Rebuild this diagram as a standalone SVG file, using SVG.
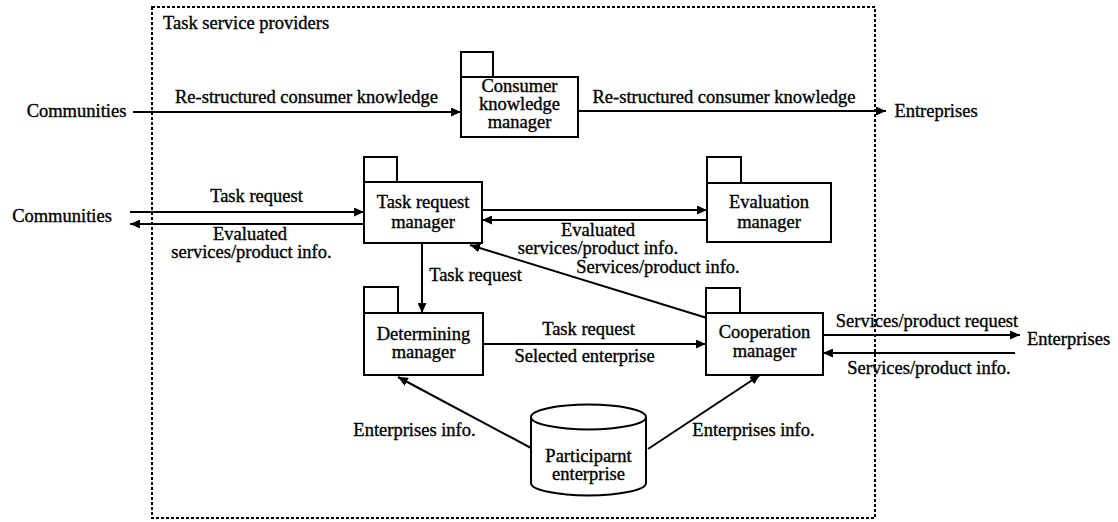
<svg xmlns="http://www.w3.org/2000/svg" width="1118" height="522" viewBox="0 0 1118 522">
<style>
.t{font-family:"Liberation Serif","Times New Roman",serif;font-size:18.5px;fill:#000;stroke:#000;stroke-width:0.35;text-anchor:middle}
.box{fill:#fff;stroke:#000;stroke-width:2}
.c{stroke:#000;stroke-width:2;fill:none;marker-end:url(#ah)}
.frame{fill:none;stroke:#000;stroke-width:2;stroke-dasharray:3,2}
</style>
<defs>
<marker id="ah" markerUnits="userSpaceOnUse" markerWidth="11" markerHeight="9" refX="10" refY="4.5" orient="auto">
<path d="M0,0 L10,4.5 L0,9 z" fill="#000"/>
</marker>
</defs>
<rect width="1118" height="522" fill="#fff"/>
<g id="frame">
<rect class="frame" x="152" y="7" width="723" height="511"/>
<text class="t" x="163" y="29" style="text-anchor:start">Task service providers</text>
</g>
<g id="connectors">
<path class="c" d="M133,112 L461,112"/>
<path class="c" d="M578,111 L886,111"/>
<path class="c" d="M130,212 L364,212"/>
<path class="c" d="M364,224 L130,224"/>
<path class="c" d="M482,210 L707,210"/>
<path class="c" d="M707,220 L482,220"/>
<path class="c" d="M422,243 L422,313"/>
<path class="c" d="M707,318 L470,245"/>
<path class="c" d="M483,344 L706,344"/>
<path class="c" d="M823,335 L1020,335"/>
<path class="c" d="M1015,353 L823,353"/>
<path class="c" d="M531,448 L398,377"/>
<path class="c" d="M648,449 L760,375"/>
</g>
<g id="labels">
<text class="t" x="76.5" y="117">Communities</text>
<text class="t" x="306.5" y="103">Re-structured consumer knowledge</text>
<text class="t" x="724" y="103">Re-structured consumer knowledge</text>
<text class="t" x="936" y="117">Entreprises</text>
<text class="t" x="62" y="222">Communities</text>
<text class="t" x="256.5" y="202">Task request</text>
<text class="t" x="250" y="240">Evaluated</text>
<text class="t" x="251.5" y="258">services/product info.</text>
<text class="t" x="598" y="236">Evaluated</text>
<text class="t" x="598" y="254">services/product info.</text>
<text class="t" x="658" y="273">Services/product info.</text>
<text class="t" x="475.5" y="281">Task request</text>
<text class="t" x="588.5" y="335">Task request</text>
<text class="t" x="584.5" y="362">Selected enterprise</text>
<text class="t" x="927" y="327">Services/product request</text>
<text class="t" x="1068.5" y="345">Enterprises</text>
<text class="t" x="929" y="374">Services/product info.</text>
<text class="t" x="414.5" y="436">Enterprises info.</text>
<text class="t" x="753.5" y="436">Enterprises info.</text>
</g>
<g id="ckm">
<rect class="box" x="461" y="52" width="32" height="25"/>
<rect class="box" x="461" y="77" width="117" height="60"/>
<text class="t" x="519.5" y="92">Consumer</text>
<text class="t" x="519.5" y="110">knowledge</text>
<text class="t" x="519.5" y="128">manager</text>
</g>
<g id="trm">
<rect class="box" x="364" y="157" width="33" height="25"/>
<rect class="box" x="364" y="182" width="118" height="61"/>
<text class="t" x="423" y="208">Task request</text>
<text class="t" x="423" y="228">manager</text>
</g>
<g id="em">
<rect class="box" x="707" y="157" width="34" height="26"/>
<rect class="box" x="707" y="183" width="124" height="59"/>
<text class="t" x="769" y="208">Evaluation</text>
<text class="t" x="769" y="228">manager</text>
</g>
<g id="dm">
<rect class="box" x="364" y="287" width="34" height="26"/>
<rect class="box" x="364" y="313" width="119" height="62"/>
<text class="t" x="423.5" y="340">Determining</text>
<text class="t" x="423.5" y="358">manager</text>
</g>
<g id="cm">
<rect class="box" x="706" y="288" width="34" height="25"/>
<rect class="box" x="706" y="313" width="117" height="62"/>
<text class="t" x="764.5" y="338">Cooperation</text>
<text class="t" x="764.5" y="357">manager</text>
</g>
<g id="pe">
<path class="box" d="M531,417 L531,483 A57.5,12.5 0 0 0 646,483 L646,417"/>
<ellipse class="box" cx="588.5" cy="417" rx="57.5" ry="12.5"/>
<text class="t" x="588.5" y="462">Participarnt</text>
<text class="t" x="588.5" y="480">enterprise</text>
</g>
</svg>
